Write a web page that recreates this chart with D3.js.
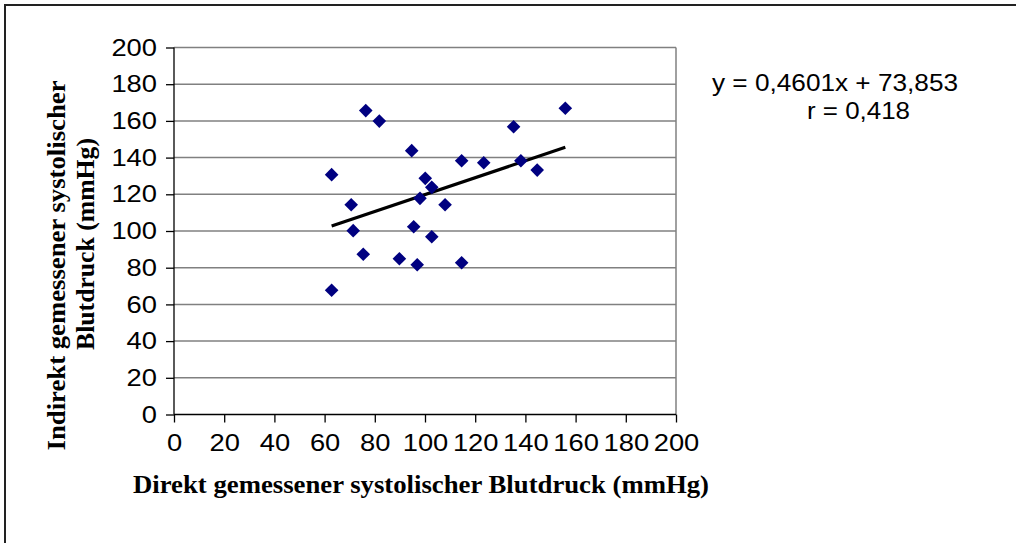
<!DOCTYPE html>
<html>
<head>
<meta charset="utf-8">
<title>Blutdruck</title>
<script src="https://cdn.jsdelivr.net/npm/d3@7"></script>
<style>
  body { margin: 0; background: #fff; }
  svg { display: block; }
  .tick text { font-family: Arial, "Liberation Sans", sans-serif; font-size: 24px; fill: #000; }
  .title { font-family: "Times New Roman", "Liberation Serif", serif; font-weight: bold; font-size: 25px; fill: #000; }
  .eq { font-family: Arial, "Liberation Sans", sans-serif; font-size: 24px; fill: #000; }
</style>
</head>
<body>
<div id="chart"></div>
<script>
// direkt gemessen (x) / indirekt gemessen (y), mmHg
var direkt   = [62.8, 62.8, 70.6, 71.4, 75.4, 76.4, 81.8, 89.8, 94.7, 95.5, 96.9, 98.0,
                100.1, 102.7, 102.7, 108.0, 114.6, 114.6, 123.4, 135.3, 138.2, 144.7, 155.9];
var indirekt = [130.7, 67.7, 114.3, 100.2, 87.3, 165.6, 159.9, 84.9, 143.8, 102.3, 81.6, 117.8,
                128.7, 123.8, 96.9, 114.3, 138.3, 82.7, 137.2, 156.8, 138.3, 133.2, 166.9];
var xTicks = [0, 20, 40, 60, 80, 100, 120, 140, 160, 180, 200];
var yTicks = [0, 20, 40, 60, 80, 100, 120, 140, 160, 180, 200];
var slope = 0.4601, intercept = 73.853;
var eqLines = ["y = 0,4601x + 73,853", "r = 0,418"];

var width = 1016, height = 543;
var plotL = 174, plotR = 676, plotT = 47.5, plotB = 414.5;

var svg = d3.select("#chart").append("svg")
    .attr("width", width).attr("height", height);

// outer frame
svg.append("rect").attr("x", 5).attr("y", 5).attr("width", 1100).attr("height", 700)
    .attr("fill", "none").attr("stroke", "#222").attr("stroke-width", 2);

var x = d3.scaleLinear().domain([0, 200]).range([plotL, plotR]);
var y = d3.scaleLinear().domain([0, 200]).range([plotB, plotT]);

// gridlines
svg.append("g").selectAll("line").data(yTicks.slice(1)).enter().append("line")
    .attr("x1", plotL).attr("x2", plotR)
    .attr("y1", function(d) { return y(d); }).attr("y2", function(d) { return y(d); })
    .attr("stroke", "#808080").attr("stroke-width", 1.5);
svg.append("line").attr("x1", plotR).attr("x2", plotR).attr("y1", plotT).attr("y2", plotB)
    .attr("stroke", "#808080").attr("stroke-width", 1.5);

var xAxis = svg.append("g").attr("transform", "translate(0," + plotB + ")")
    .call(d3.axisBottom(x).tickValues(xTicks).tickSize(8).tickPadding(11));
var yAxis = svg.append("g").attr("transform", "translate(" + plotL + ",0)")
    .call(d3.axisLeft(y).tickValues(yTicks).tickSize(8).tickPadding(9));
[xAxis, yAxis].forEach(function(a) {
    a.selectAll("path, line").attr("stroke", "#000").attr("stroke-width", 1.3);
    a.selectAll("text").attr("font-family", null).attr("font-size", null)
        .attr("textLength", function(d) { return String(d).length * 15.2; })
        .attr("lengthAdjust", "spacingAndGlyphs");
});
xAxis.select(".domain").attr("d", "M" + plotL + ",0H" + plotR);
yAxis.select(".domain").attr("d", "M0," + plotT + "V" + plotB);

// trend line
var xr = d3.extent(direkt);
svg.append("line")
    .attr("x1", x(xr[0])).attr("y1", y(slope * xr[0] + intercept))
    .attr("x2", x(xr[1])).attr("y2", y(slope * xr[1] + intercept))
    .attr("stroke", "#000").attr("stroke-width", 3.2);

// points
var pts = direkt.map(function(d, i) { return {x: d, y: indirekt[i]}; });
svg.append("g").selectAll("path").data(pts).enter().append("path")
    .attr("d", "M0,-6.8L6.8,0L0,6.8L-6.8,0Z")
    .attr("transform", function(d) { return "translate(" + x(d.x) + "," + y(d.y) + ")"; })
    .attr("fill", "#000080");

// axis titles
svg.append("text").attr("class", "title").attr("x", 421).attr("y", 493)
    .attr("text-anchor", "middle").attr("textLength", 576).attr("lengthAdjust", "spacingAndGlyphs")
    .text("Direkt gemessener systolischer Blutdruck (mmHg)");
svg.append("text").attr("class", "title")
    .attr("transform", "translate(65,265.5) rotate(-90)")
    .attr("text-anchor", "middle").attr("textLength", 370).attr("lengthAdjust", "spacingAndGlyphs")
    .text("Indirekt gemessener systolischer");
svg.append("text").attr("class", "title")
    .attr("transform", "translate(94,244) rotate(-90)")
    .attr("text-anchor", "middle").attr("textLength", 212).attr("lengthAdjust", "spacingAndGlyphs")
    .text("Blutdruck (mmHg)");

// regression text
svg.append("text").attr("class", "eq").attr("x", 712).attr("y", 90.5)
    .attr("textLength", 246).attr("lengthAdjust", "spacingAndGlyphs").text(eqLines[0]);
svg.append("text").attr("class", "eq").attr("x", 807).attr("y", 118.5)
    .attr("textLength", 103).attr("lengthAdjust", "spacingAndGlyphs").text(eqLines[1]);
</script>
</body>
</html>
